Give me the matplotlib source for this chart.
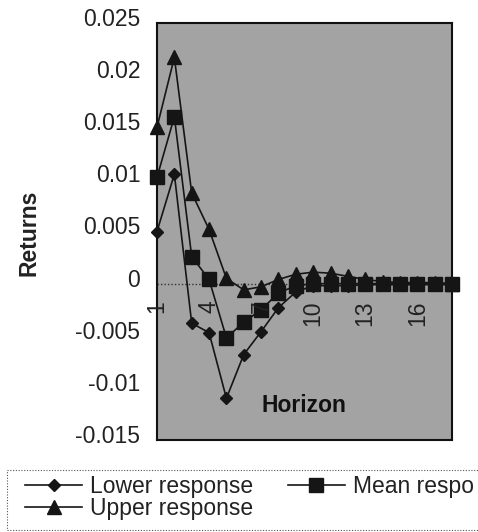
import matplotlib
matplotlib.use("Agg")
import matplotlib.pyplot as plt
import matplotlib.transforms as mtransforms
from matplotlib.patches import Rectangle
from matplotlib.ticker import FuncFormatter

horizon = list(range(1, 19))
lower = [0.005, 0.0105, -0.0038, -0.0047, -0.011, -0.0068, -0.0046, -0.0023, -0.0008,
         -0.0002, -0.0002, -0.0002, -0.0001, -0.0001, -0.0001, -0.0001, -0.0001, -0.0001]
mean = [0.0102, 0.016, 0.0026, 0.0004, -0.0052, -0.0037, -0.0025, -0.0009, -0.0002,
        0.0, 0.0, 0.0, 0.0, 0.0, 0.0, 0.0, 0.0, 0.0]
upper = [0.015, 0.0217, 0.0087, 0.0052, 0.0005, -0.0006, -0.0003, 0.0004, 0.0009,
         0.0011, 0.001, 0.0007, 0.0004, 0.0002, 0.0001, 0.0001, 0.0001, 0.0]
series_labels = ['Lower response', 'Upper response', 'Mean respo']
xtick_vals = [1, 4, 7, 10, 13, 16]
ytick_vals = [-0.015, -0.01, -0.005, 0, 0.005, 0.01, 0.015, 0.02, 0.025]

plt.rcParams['font.family'] = ['Liberation Sans', 'DejaVu Sans']
FS = 16.5

W, H = 478, 532
fig = plt.figure(figsize=(W / 100, H / 100), dpi=100, facecolor='white')
ax = fig.add_axes([157 / W, 1 - 440 / H, 295 / W, 417 / H])
ax.set_facecolor('#a3a3a3')

lc = '#151515'
l1, = ax.plot(horizon, lower, color=lc, lw=1.2, marker='D', ms=6.5, clip_on=False, zorder=3)
l2, = ax.plot(horizon, mean, color=lc, lw=1.2, marker='s', ms=9.5, clip_on=False, zorder=3)
l3, = ax.plot(horizon, upper, color=lc, lw=1.2, marker='^', ms=9.5, clip_on=False, zorder=3)

ax.set_xlim(1, 18)
ax.set_ylim(-0.015, 0.025)
ax.axhline(0, color='#333333', lw=1.0, ls=(0, (1, 1.5)), zorder=2)

ax.set_xticks([])
for v in xtick_vals:
    ax.annotate(str(v), xy=(v, 0), xycoords='data', xytext=(0, -12), textcoords='offset points',
                rotation=90, ha='center', va='top', fontsize=FS, color='#222222')

ax.set_yticks(ytick_vals)
ax.yaxis.set_major_formatter(FuncFormatter(lambda v, p: '{:g}'.format(round(v, 4))))
ax.tick_params(axis='y', length=0, pad=12, labelsize=FS, labelcolor='#222222')
offset = mtransforms.ScaledTranslation(0, 6 / 100, fig.dpi_scale_trans)
for lab in ax.yaxis.get_majorticklabels():
    lab.set_transform(lab.get_transform() + offset)

for s in ax.spines.values():
    s.set_color('#111111')
    s.set_linewidth(1.5)

fig.text(29 / W, 1 - 233 / H, 'Returns', rotation=90, ha='center', va='center',
         fontsize=FS, fontweight='bold', color='#222222')
fig.text(304 / W, 1 - 405 / H, 'Horizon', fontsize=FS, fontweight='bold',
         color='#111111', ha='center', va='center')

# legend frame (extends beyond the right edge like the reference)
fig.add_artist(Rectangle((7 / W, 1 - 530 / H), 490 / W, 60 / H, transform=fig.transFigure,
                         fill=True, facecolor='white', edgecolor='#555555', lw=0.8,
                         ls=(0, (1, 1.5)), zorder=0))

leg = fig.legend([l1, l3, l2], series_labels,
                 ncol=2, loc='upper left', bbox_to_anchor=(25 / W, 1 - 475 / H),
                 borderaxespad=0, fontsize=FS, handlelength=2.5, handletextpad=0.35,
                 labelspacing=-0.05, columnspacing=1.5, borderpad=0, frameon=False)
for t in leg.get_texts():
    t.set_color('#222222')

fig.savefig('out.png', dpi=100, facecolor='white')
